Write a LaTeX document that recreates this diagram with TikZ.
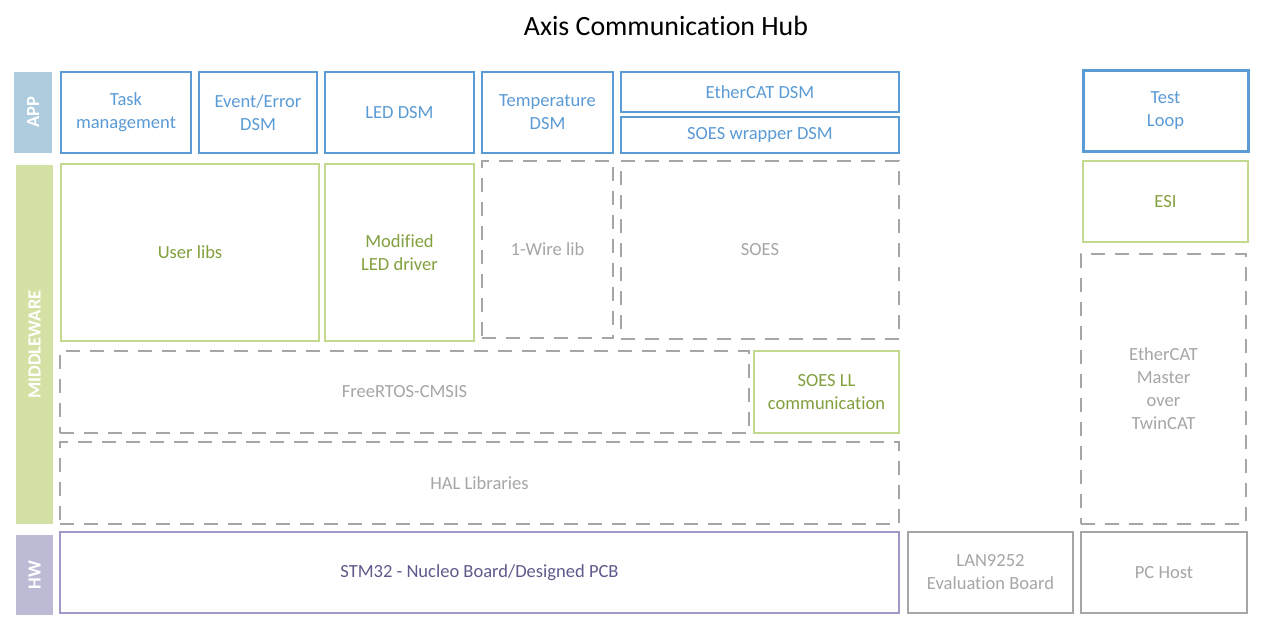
\documentclass[tikz,border=0pt]{standalone}
\usepackage{fontspec}
\setmainfont{Carlito}[Ligatures=NoCommon]
\definecolor{appblue}{HTML}{5B9BD5}
\definecolor{appbar}{HTML}{ADCDDF}
\definecolor{mwbar}{HTML}{D4E1A5}
\definecolor{hwbar}{HTML}{BDBAD6}
\definecolor{greenline}{HTML}{C3D98E}
\definecolor{greentext}{HTML}{82A03E}
\definecolor{grayc}{HTML}{A6A6A6}
\definecolor{purpleline}{HTML}{9F9AC8}
\definecolor{purpletext}{HTML}{5E5A8C}
\tikzset{
  boxbase/.style={draw, line width=1.5pt, inner sep=0pt, outer sep=0pt, align=center,
    font=\fontsize{13.9}{17.2}\selectfont},
  bluebox/.style={boxbase, draw=appblue, text=appblue},
  greenbox/.style={boxbase, draw=greenline, text=greentext},
  graydash/.style={boxbase, draw=grayc, text=grayc, dash pattern=on 10.5pt off 7.5pt},
  graybox/.style={boxbase, draw=grayc, text=grayc},
  purplebox/.style={boxbase, draw=purpleline, text=purpletext},
  barbox/.style={inner sep=0pt, outer sep=0pt, rotate=90, text=white,
    font=\fontsize{13.9}{16}\selectfont\bfseries}
}
\newcommand\bx[7]{\node[#1, minimum width={(#4-#2)*0.75pt}, minimum height={(#5-#3)*0.75pt}] (#6) at ({(#2+#4)/2},{(#3+#5)/2}) {#7};}
\begin{document}
\begin{tikzpicture}[x=0.75pt,y=-0.75pt]
\useasboundingbox[fill=white] (0,0) rectangle (1262,626);
\node[font=\fontsize{20.9}{24}\selectfont, text=black] (title) at (666,26) {Axis Communication Hub};
% side bars
\node[barbox, fill=appbar, minimum width={81*0.75pt}, minimum height={38*0.75pt}] (app) at (33,112.5) {APP};
\node[barbox, fill=mwbar, minimum width={359*0.75pt}, minimum height={37*0.75pt}] (mw) at (34.5,344.5) {MIDDLEWARE};
\node[barbox, fill=hwbar, minimum width={80*0.75pt}, minimum height={37*0.75pt}] (hw) at (34.5,575) {HW};
% APP row
\bx{bluebox}{61}{72}{191}{153}{taskm}{Task\\management}
\bx{bluebox}{199}{72}{317}{153}{event}{Event/Error\\DSM}
\bx{bluebox}{325}{72}{474}{153}{leddsm}{LED DSM}
\bx{bluebox}{482}{72}{613}{153}{temp}{Temperature\\DSM}
\bx{bluebox}{621}{72}{899}{112}{ecatdsm}{EtherCAT DSM}
\bx{bluebox}{621}{117}{899}{153}{soeswr}{SOES wrapper DSM}
\bx{bluebox, line width=2.25pt}{1083}{70}{1248}{151}{testloop}{Test\\Loop}
% MIDDLEWARE
\bx{greenbox}{61}{164}{319}{341}{userlibs}{User libs}
\bx{greenbox}{325}{164}{474}{341}{modled}{Modified\\LED driver}
\bx{graydash}{482}{161}{613}{338}{onewire}{1-Wire lib}
\bx{graydash}{621}{161}{899}{339}{soes}{SOES}
\bx{graydash}{60}{351}{749}{433}{freertos}{FreeRTOS-CMSIS}
\bx{greenbox}{754}{351}{899}{433}{soesll}{SOES LL\\communication}
\bx{graydash}{60}{442}{899}{524}{hal}{HAL Libraries}
\bx{greenbox}{1083}{161}{1248}{242}{esi}{ESI}
\bx{graydash}{1081}{254}{1246}{524}{twincat}{EtherCAT\\Master\\over\\TwinCAT}
% HW
\bx{purplebox}{60}{532}{899}{613}{stm32}{STM32 - Nucleo Board/Designed PCB}
\bx{graybox}{908}{532}{1073}{613}{lan}{LAN9252\\Evaluation Board}
\bx{graybox}{1081}{532}{1247}{613}{pchost}{PC Host}
\end{tikzpicture}
\end{document}
